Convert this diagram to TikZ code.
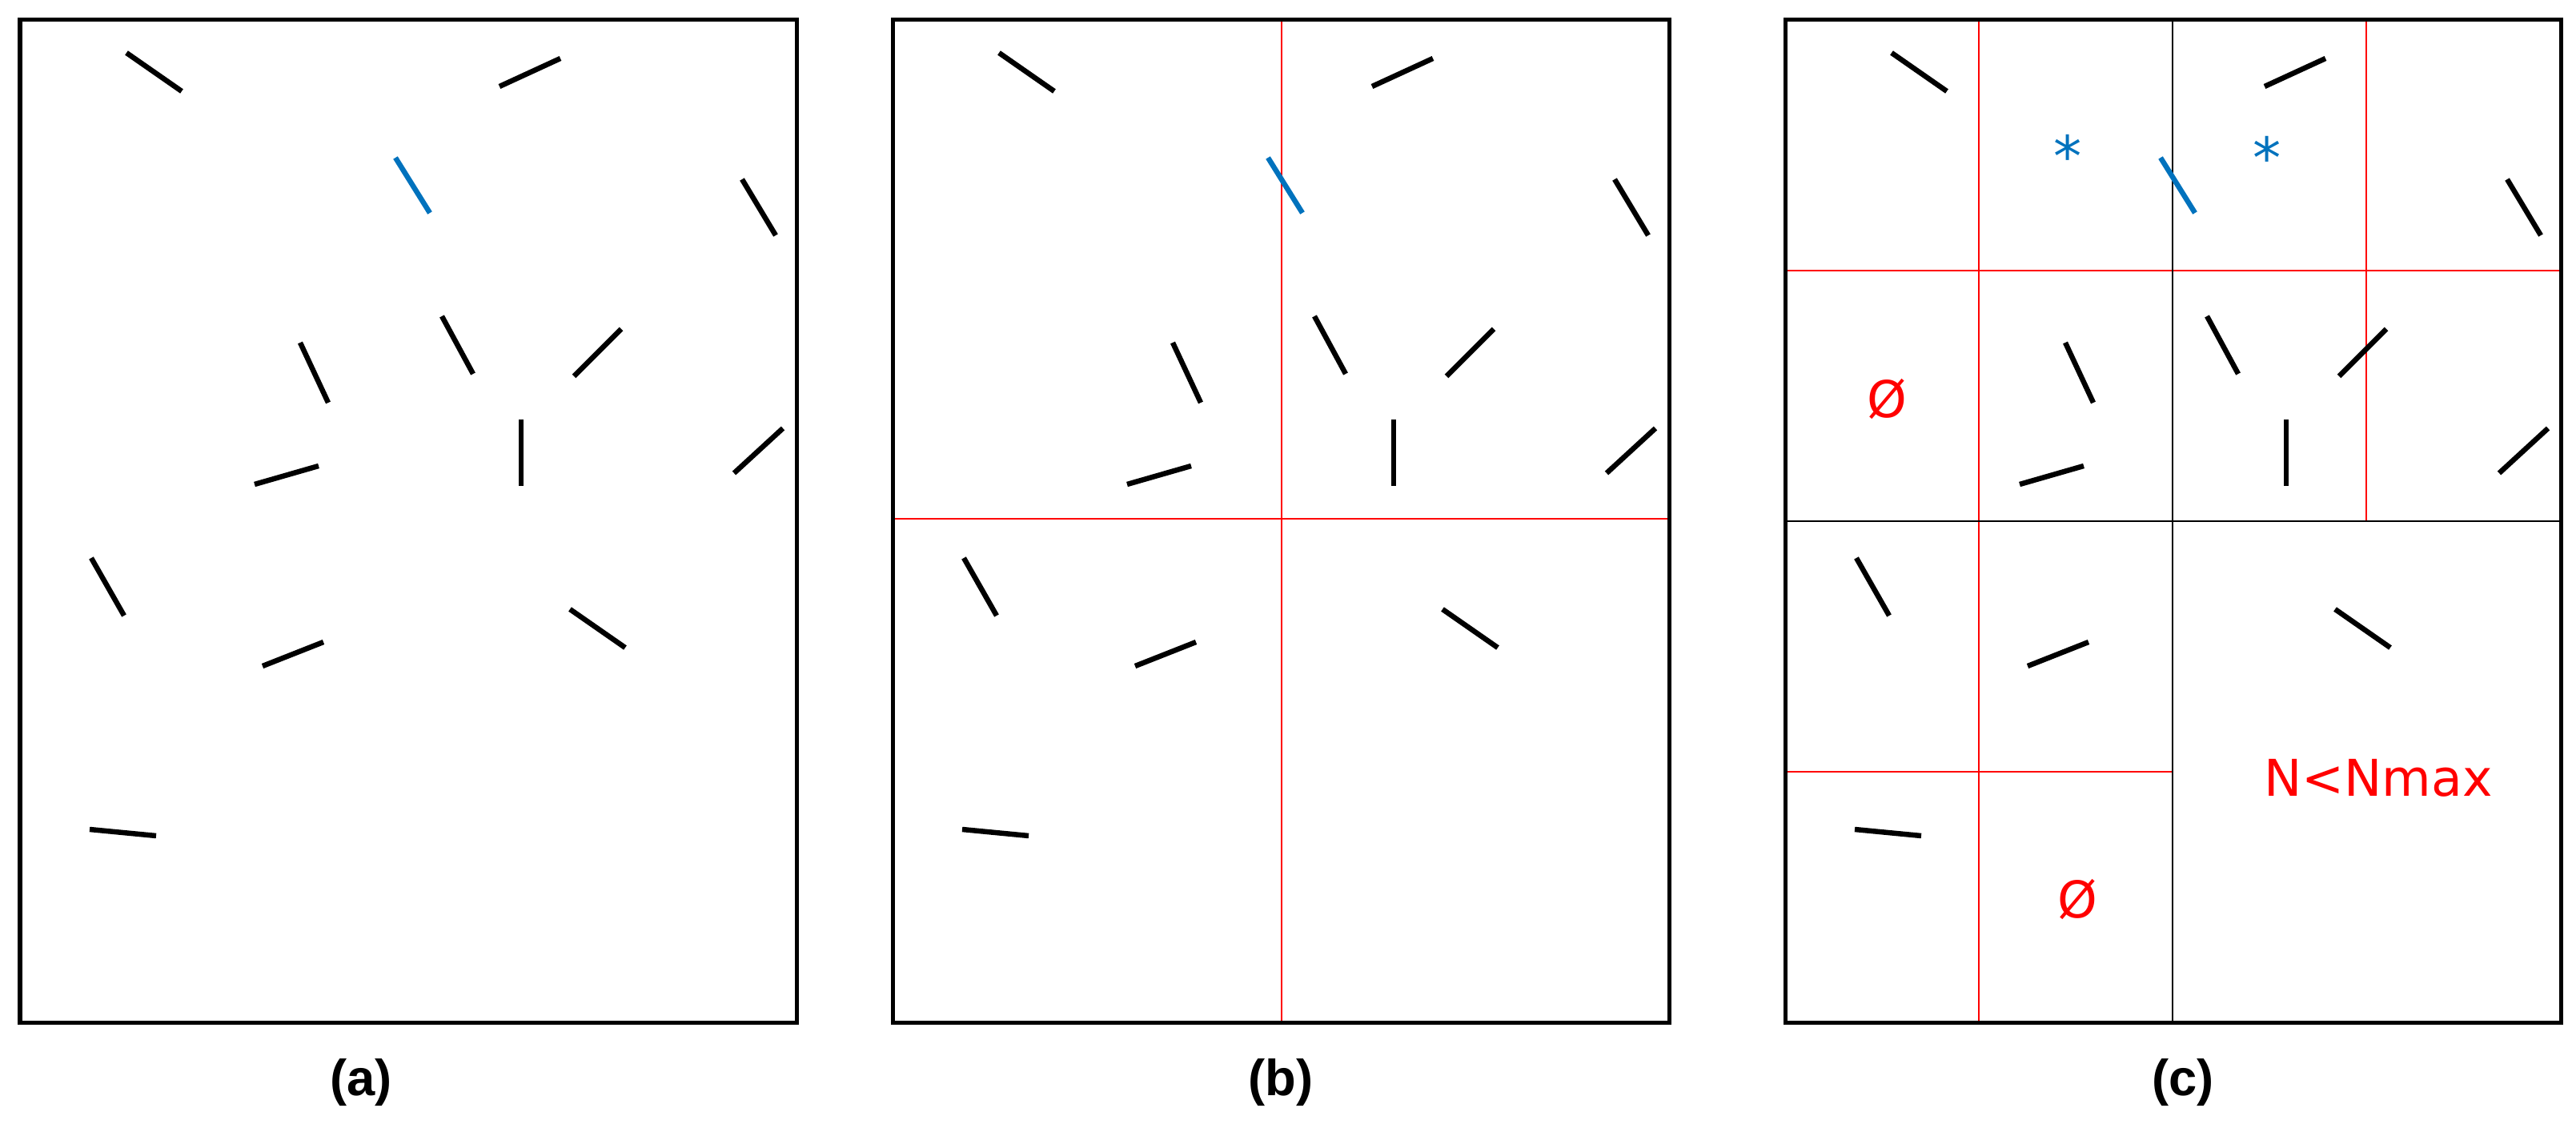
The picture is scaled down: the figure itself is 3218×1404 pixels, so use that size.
\documentclass[tikz,border=0pt]{standalone}
\usepackage{fontspec}
\newfontfamily\dvs{DejaVu Sans}
\newfontfamily\lbs{Liberation Sans}
\definecolor{mblue}{HTML}{0072BD}
\tikzset{
 panelbox/.style={draw=black, line width=0.05cm},
 stick/.style={draw=black, line width=0.065cm},
 bluestick/.style={draw=mblue, line width=0.065cm},
 redline/.style={draw=red, line width=0.022cm},
 gridline/.style={draw=black, line width=0.025cm},
 lab/.style={font=\lbs\bfseries\fontsize{18}{20}\selectfont, inner sep=0},
 rtext/.style={text=red, font=\dvs\fontsize{18}{20}\selectfont, inner sep=0},
 startext/.style={text=mblue, font=\dvs\fontsize{20}{22}\selectfont, inner sep=0, anchor=base},
}
\newcommand\drawsticks{%
 \draw[stick] (158,66) -- (227,114);
 \draw[stick] (624,108) -- (700,73);
 \draw[bluestick] (494,197) -- (537,266);
 \draw[stick] (927,224) -- (969,294);
 \draw[stick] (375,428) -- (410,503);
 \draw[stick] (552,395) -- (591,467);
 \draw[stick] (717,470) -- (776,411);
 \draw[stick] (318,605) -- (398,582);
 \draw[stick] (651,524) -- (651,607);
 \draw[stick] (917,591) -- (978,535);
 \draw[stick] (114,697) -- (155,769);
 \draw[stick] (328,832) -- (404,802);
 \draw[stick] (712,761) -- (781,809);
 \draw[stick] (112,1036) -- (195,1044);
}
\begin{document}
\begin{tikzpicture}[x=0.01cm,y=-0.01cm]
\useasboundingbox (0,0) rectangle (3218,1404);
% panel (a)
\begin{scope}
 \drawsticks
 \draw[panelbox] (25,25) rectangle (995,1277);
\end{scope}
% panel (b)
\begin{scope}[shift={(1090,0)}]
 \draw[redline] (511,25) -- (511,1277);
 \draw[redline] (25,648) -- (995,648);
 \drawsticks
 \draw[panelbox] (25,25) rectangle (995,1277);
\end{scope}
% panel (c)
\begin{scope}[shift={(2205,0)}]
 \draw[redline] (25,338) -- (994,338);
 \draw[redline] (267,25) -- (267,1277);
 \draw[redline] (751,25) -- (751,651);
 \draw[redline] (25,964) -- (510,964);
 \draw[gridline] (509,25) -- (509,1277);
 \draw[gridline] (25,651) -- (994,651);
 \drawsticks
 \draw[panelbox] (25,25) rectangle (994,1277);
\end{scope}
\node[startext] (s1) at (2583,221) {*};
\node[startext] (s2) at (2832,223) {*};
\node[rtext] (e1) at (2357,498) {Ø};
\node[rtext] (e2) at (2595,1123) {Ø};
\node[rtext] (nm) at (2971,972) {N<Nmax};
\node[lab] (la) at (451,1352) {(a)};
\node[lab] (lb) at (1600,1352) {(b)};
\node[lab] (lc) at (2727,1352) {(c)};
\end{tikzpicture}
\end{document}
